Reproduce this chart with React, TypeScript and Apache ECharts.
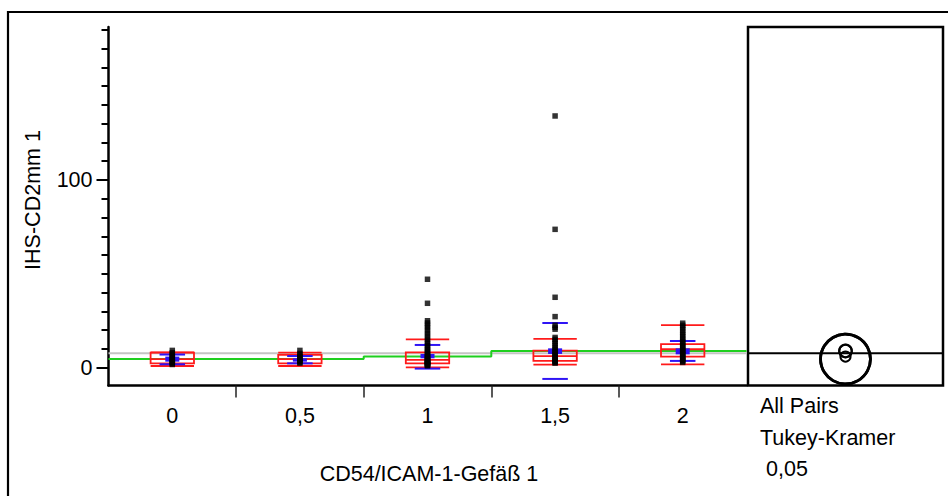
import React, { useEffect, useRef } from "react";
import * as echarts from "echarts";

// ---------------- data ----------------
const categories = ["0", "0,5", "1", "1,5", "2"];
const yLabelValues = [0, 100];
const yMinorTickValues = [0, 10, 20, 30, 40, 50, 60, 70, 80, 90, 100, 110, 120, 130, 140, 150, 160, 170, 180];
const xTitle = "CD54/ICAM-1-Gefäß 1";
const yTitle = "IHS-CD2mm 1";
const testLines = ["All Pairs", "Tukey-Kramer", "0,05"];

const pointsG0 = [1.7, 2.2, 2.8, 3.5, 4.1, 4.8, 5.5, 6.3, 7.2, 8.0, 9.2];
const pointsG05 = [2.4, 3.0, 3.6, 4.3, 5.0, 5.8, 6.6, 7.6, 9.2];
const pointsG1 = [1.0, 1.2, 1.5, 1.8, 2.0, 2.3, 2.6, 3.0, 3.4, 3.7, 4.1, 4.5, 5.0, 5.6, 6.2, 7.0, 7.8, 8.6, 9.5, 10.5, 11.6, 12.8, 14.0, 15.3, 16.8, 18.2, 19.7, 21.2, 22.5, 23.8, 25.0, 34.3, 47.1];
const pointsG15 = [2.4, 2.8, 3.3, 3.6, 4.2, 4.8, 5.4, 6.2, 6.9, 7.8, 8.6, 9.5, 10.5, 11.6, 12.8, 14.0, 15.1, 16.1, 20.5, 21.5, 22.6, 27.2, 37.5, 73.7, 134.1];
const pointsG2 = [2.8, 3.4, 4.0, 4.7, 5.4, 6.1, 6.9, 7.7, 8.5, 9.3, 10.2, 11.1, 12.0, 13.0, 14.0, 15.1, 16.3, 17.5, 18.8, 20.1, 21.4, 22.6, 23.7];
const groupPoints = [pointsG0, pointsG05, pointsG1, pointsG15, pointsG2];

const q10 = [0.9, 0.9, 0.2, 1.6, 1.8];
const q25 = [2.3, 2.3, 2.3, 3.6, 5.9];
const median = [4.6, 4.6, 4.1, 6.2, 9.8];
const q75 = [8.0, 6.8, 8.2, 9.1, 12.5];
const q90 = [8.1, 8.0, 15.1, 15.3, 22.7];

const groupMeans = [4.6, 4.6, 5.9, 8.9, 8.9];
const sdLow = [1.8, 2.3, -0.5, -6.0, 3.6];
const sdHigh = [7.0, 6.2, 12.1, 23.8, 14.2];
const seLow = [3.2, 3.2, 5.0, 7.3, 7.1];
const seHigh = [5.9, 5.0, 7.3, 10.3, 10.3];
const grandMean = 7.7;

const circleCenters = [4.6, 4.6, 5.9, 8.9, 8.9];
const circleRadii = [13.3, 13.3, 2.7, 3.4, 3.3];

// ---------------- component ----------------
export default function App() {
  const ref = useRef<HTMLDivElement>(null);

  useEffect(() => {
    if (!ref.current) return;
    const chart = echarts.init(ref.current, null, { renderer: "svg" });
    const FONT = "'Liberation Sans', Arial, sans-serif";
    const FS = 21.5;
    const yMin = -9.5;
    const yMax = 181.5;

    const scatterData: number[][] = [];
    groupPoints.forEach((pts, i) => pts.forEach((v) => scatterData.push([i, v])));

    const boxData = categories.map((_, i) => [i, q10[i], q25[i], median[i], q75[i], q90[i]]);
    const blueData = categories.map((_, i) => [i, sdLow[i], sdHigh[i], seLow[i], seHigh[i]]);

    const meanStep: number[][] = [[-0.5, groupMeans[0]]];
    groupMeans.forEach((m, i) => meanStep.push([i, m]));
    meanStep.push([categories.length - 0.5, groupMeans[groupMeans.length - 1]]);

    const circleData = circleCenters.map((c, i) => [0.5, c, circleRadii[i]]);

    const RED = "#ff1a1a";
    const BLUE = "#2f14f5";

    const option: any = {
      animation: false,
      backgroundColor: "#fff",
      grid: [
        { left: 108.5, top: 27, width: 638, height: 358.5, containLabel: false },
        {
          left: 748, top: 27, width: 195, height: 358.5, show: true,
          borderColor: "#000", borderWidth: 2.5, backgroundColor: "transparent",
        },
      ],
      xAxis: [
        {
          gridIndex: 0, type: "value", min: -0.5, max: categories.length - 0.5, position: "bottom",
          axisLine: { show: true, onZero: false, lineStyle: { color: "#000", width: 2.5 } },
          axisTick: {
            show: true, length: 12,
            customValues: categories.slice(1).map((_, i) => i + 0.5),
            lineStyle: { color: "#222", width: 1.5 },
          },
          axisLabel: {
            show: true, customValues: categories.map((_, i) => i),
            formatter: (v: number) => categories[Math.round(v)],
            fontSize: FS, color: "#000", fontFamily: FONT, margin: 19,
          },
          splitLine: { show: false },
        },
        { gridIndex: 1, type: "value", min: 0, max: 1, show: false },
      ],
      yAxis: [
        {
          gridIndex: 0, type: "value", min: yMin, max: yMax, position: "left",
          axisLine: { show: true, onZero: false, lineStyle: { color: "#000", width: 2.5 } },
          axisTick: { show: true, length: 12, customValues: yLabelValues, lineStyle: { color: "#000", width: 2 } },
          axisLabel: {
            show: true, customValues: yLabelValues, fontSize: FS, color: "#000",
            fontFamily: FONT, margin: 16,
          },
          splitLine: { show: false },
        },
        {
          gridIndex: 0, type: "value", min: yMin, max: yMax, position: "left", offset: 0,
          axisLine: { show: false, onZero: false },
          axisTick: { show: true, length: 7, customValues: yMinorTickValues, lineStyle: { color: "#000", width: 2 } },
          axisLabel: { show: false },
          splitLine: { show: false },
        },
        { gridIndex: 1, type: "value", min: yMin, max: yMax, show: false },
      ],
      series: [
        {
          type: "line", xAxisIndex: 0, yAxisIndex: 0, z: 2,
          data: [[-0.5, grandMean], [categories.length - 0.5, grandMean]],
          symbol: "none", lineStyle: { color: "#c4c4c4", width: 2 }, silent: true,
        },
        {
          type: "line", xAxisIndex: 0, yAxisIndex: 0, z: 3, step: "middle",
          data: meanStep, symbol: "none", lineStyle: { color: "#1fcf1f", width: 2 }, silent: true,
        },
        {
          type: "custom", xAxisIndex: 0, yAxisIndex: 0, z: 4,
          data: boxData,
          encode: { x: 0, y: [1, 2, 3, 4, 5] },
          renderItem: (params: any, api: any) => {
            const i = api.value(0);
            const band = api.size([1, 0])[0];
            const bw = band * 0.34;
            const cx = api.coord([i, 0])[0];
            const x0 = cx - bw / 2;
            const y = (k: number) => api.coord([i, api.value(k)])[1];
            const st = { stroke: RED, lineWidth: 1.8, fill: "none" };
            const hl = (yy: number) => ({ type: "line", shape: { x1: x0, y1: yy, x2: x0 + bw, y2: yy }, style: st });
            return {
              type: "group",
              children: [
                { type: "rect", shape: { x: x0, y: y(4), width: bw, height: y(2) - y(4) }, style: st },
                hl(y(3)), hl(y(1)), hl(y(5)),
              ],
            };
          },
        },
        {
          type: "custom", xAxisIndex: 0, yAxisIndex: 0, z: 5,
          data: blueData,
          encode: { x: 0, y: [1, 2, 3, 4] },
          renderItem: (params: any, api: any) => {
            const i = api.value(0);
            const band = api.size([1, 0])[0];
            const lw = band * 0.2;
            const sw = band * 0.11;
            const cx = api.coord([i, 0])[0];
            const y = (k: number) => api.coord([i, api.value(k)])[1];
            const st = { stroke: BLUE, lineWidth: 2 };
            return {
              type: "group",
              children: [
                { type: "line", shape: { x1: cx - lw / 2, y1: y(1), x2: cx + lw / 2, y2: y(1) }, style: st },
                { type: "line", shape: { x1: cx - lw / 2, y1: y(2), x2: cx + lw / 2, y2: y(2) }, style: st },
                { type: "rect", shape: { x: cx - sw / 2, y: y(4), width: sw, height: y(3) - y(4) }, style: { fill: BLUE } },
              ],
            };
          },
        },
        {
          type: "scatter", xAxisIndex: 0, yAxisIndex: 0, z: 6,
          data: scatterData, symbol: "rect", symbolSize: 5.5,
          itemStyle: { color: "#000" }, silent: true,
        },
        {
          type: "line", xAxisIndex: 1, yAxisIndex: 2, z: 2,
          data: [[0, grandMean], [1, grandMean]],
          symbol: "none", lineStyle: { color: "#000", width: 2 }, silent: true,
        },
        {
          type: "custom", xAxisIndex: 1, yAxisIndex: 2, z: 4,
          data: circleData,
          encode: { x: 0, y: 1 },
          renderItem: (params: any, api: any) => {
            const c = api.coord([api.value(0), api.value(1)]);
            const r = api.size([0, api.value(2)])[1];
            return {
              type: "circle",
              shape: { cx: c[0], cy: c[1], r },
              style: { fill: "none", stroke: "#000", lineWidth: r > 10 ? 2.8 : 2 },
            };
          },
        },
      ],
      graphic: [
        {
          type: "rect", silent: true, z: 10,
          shape: { x: 8, y: 12, width: 1000, height: 1000 },
          style: { fill: "none", stroke: "#000", lineWidth: 2.2 },
        },
        {
          type: "text", x: 429, y: 473.5,
          style: { text: xTitle, fontSize: FS, fontFamily: FONT, fill: "#000", textAlign: "center", textVerticalAlign: "middle" },
        },
        {
          type: "text", x: 33, y: 200, rotation: Math.PI / 2,
          style: { text: yTitle, fontSize: FS, fontFamily: FONT, fill: "#000", textAlign: "center", textVerticalAlign: "middle" },
        },
        ...testLines.map((t, k) => ({
          type: "text", x: k === 2 ? 766 : 760, y: 406 + k * 31.5,
          style: { text: t, fontSize: FS, fontFamily: FONT, fill: "#000", textAlign: "left", textVerticalAlign: "middle" },
        })),
      ],
    };

    chart.setOption(option);
    return () => chart.dispose();
  }, []);

  return (
    <div
      ref={ref}
      style={{ position: "absolute", left: 0, top: 0, width: 948, height: 496, background: "#fff" }}
    />
  );
}
